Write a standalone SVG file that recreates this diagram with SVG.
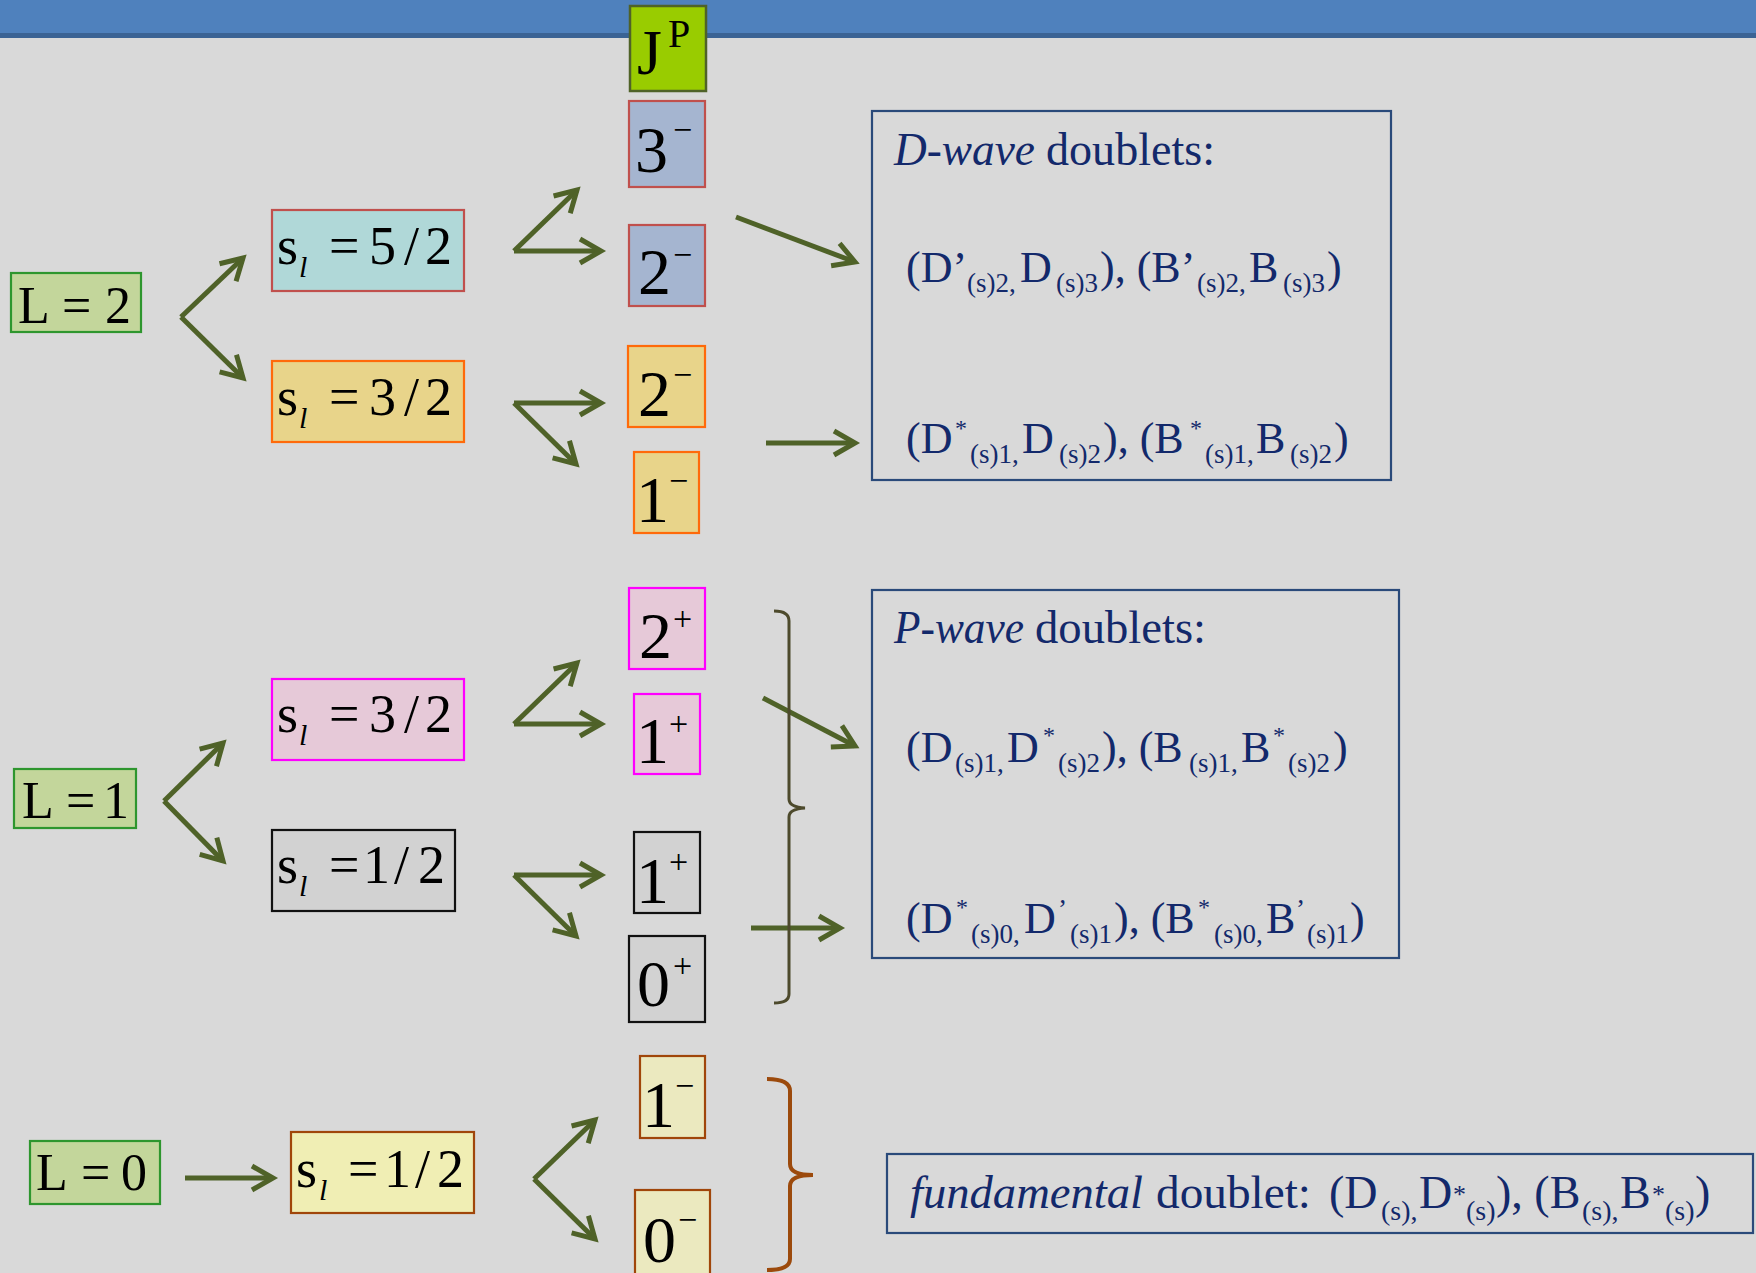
<svg xmlns="http://www.w3.org/2000/svg" width="1756" height="1273" viewBox="0 0 1756 1273">
<defs>
<style>
.sf{font-family:"Liberation Serif","Times New Roman",serif;fill:#000}
.nv{font-family:"Liberation Serif","Times New Roman",serif;fill:#13296b}
.it{font-style:italic}
.box{stroke-width:2.2}
.doub{fill:none;stroke:#2a4a7a;stroke-width:2.2}
.arr{fill:none;stroke:#4f6228;stroke-width:5;marker-end:url(#ah)}
.sub{font-size:27px}
.star{font-size:24px}
</style>
<marker id="ah" markerUnits="userSpaceOnUse" viewBox="-28 -16 32 32" markerWidth="32" markerHeight="32" refX="0" refY="0" orient="auto" overflow="visible">
<path d="M-21,-12 L0,0 L-21,12" fill="none" stroke="#4f6228" stroke-width="5"/>
</marker>
</defs>
<rect x="0" y="0" width="1756" height="1273" fill="#d9d9d9"/>
<rect x="0" y="0" width="1756" height="33" fill="#4f81bd"/>
<rect x="0" y="33" width="1756" height="5" fill="#3b6394"/>

<g id="connectors">
<path class="arr" d="M181,317 L243,258"/>
<path class="arr" d="M181,317 L243,378"/>
<path class="arr" d="M514,251 L577,190"/>
<path class="arr" d="M514,251 L601,251"/>
<path class="arr" d="M514,403 L601,403"/>
<path class="arr" d="M514,403 L576,464"/>
<path class="arr" d="M736,217 L855,262"/>
<path class="arr" d="M766,443 L855,443"/>
<path class="arr" d="M164,801 L223,743"/>
<path class="arr" d="M164,801 L223,861"/>
<path class="arr" d="M514,724 L577,663"/>
<path class="arr" d="M514,724 L601,724"/>
<path class="arr" d="M514,875 L601,875"/>
<path class="arr" d="M514,875 L576,936"/>
<path class="arr" d="M763,698 L855,746"/>
<path class="arr" d="M751,928 L840,928"/>
<path class="arr" d="M185,1178 L273,1178"/>
<path class="arr" d="M534,1179 L595,1120"/>
<path class="arr" d="M534,1179 L595,1239"/>
<path d="M774,611 Q789,611 789,621 L789,799 Q789,807 805,808 Q789,809 789,817 L789,994 Q789,1003 774,1003" fill="none" stroke="#4d4a2c" stroke-width="3"/>
<path d="M767,1079 Q790,1079 790,1091 L790,1164 Q790,1175 813,1175 Q790,1175 790,1186 L790,1259 Q790,1270 767,1270" fill="none" stroke="#9c4a0c" stroke-width="4"/>
</g>

<g id="n-jp">
<rect x="630" y="6" width="76" height="85" fill="#99cc00" stroke="#4f6228" stroke-width="2.5"/>
<text class="sf" x="637" y="74" font-size="64">J</text>
<text class="sf" x="668" y="47" font-size="40">P</text>
</g>

<g id="n-L2">
<rect class="box" x="11" y="273" width="130" height="59" fill="#c3d69b" stroke="#2e962e"/>
<text class="sf" font-size="52" y="323"><tspan x="18">L</tspan><tspan x="62">=</tspan><tspan x="105">2</tspan></text>
</g>
<g id="n-L1">
<rect class="box" x="14" y="769" width="122" height="59" fill="#c3d69b" stroke="#2e962e"/>
<text class="sf" font-size="52" y="818"><tspan x="22">L</tspan><tspan x="66">=</tspan><tspan x="103">1</tspan></text>
</g>
<g id="n-L0">
<rect class="box" x="30" y="1141" width="130" height="63" fill="#c3d69b" stroke="#2e962e"/>
<text class="sf" font-size="52" y="1190"><tspan x="36">L</tspan><tspan x="81">=</tspan><tspan x="121">0</tspan></text>
</g>

<g id="n-s52">
<rect class="box" x="272" y="210" width="192" height="81" fill="#b0d8d8" stroke="#c0504d"/>
<text class="sf" font-size="54" y="264"><tspan x="277">s</tspan><tspan x="299" y="277" font-size="30" font-style="italic">l</tspan><tspan x="329" y="264">=</tspan><tspan x="369">5</tspan><tspan x="404">/</tspan><tspan x="425">2</tspan></text>
</g>
<g id="n-s32a">
<rect class="box" x="272" y="361" width="192" height="81" fill="#e8d48a" stroke="#ff6a0a"/>
<text class="sf" font-size="54" y="415"><tspan x="277">s</tspan><tspan x="299" y="428" font-size="30" font-style="italic">l</tspan><tspan x="329" y="415">=</tspan><tspan x="369">3</tspan><tspan x="404">/</tspan><tspan x="425">2</tspan></text>
</g>
<g id="n-s32b">
<rect class="box" x="272" y="679" width="192" height="81" fill="#e6c9d8" stroke="#ff00ff"/>
<text class="sf" font-size="54" y="732"><tspan x="277">s</tspan><tspan x="299" y="745" font-size="30" font-style="italic">l</tspan><tspan x="329" y="732">=</tspan><tspan x="369">3</tspan><tspan x="404">/</tspan><tspan x="425">2</tspan></text>
</g>
<g id="n-s12a">
<rect class="box" x="272" y="830" width="183" height="81" fill="#d2d2d2" stroke="#111111"/>
<text class="sf" font-size="54" y="883"><tspan x="277">s</tspan><tspan x="299" y="896" font-size="30" font-style="italic">l</tspan><tspan x="329" y="883">=</tspan><tspan x="363">1</tspan><tspan x="394">/</tspan><tspan x="418">2</tspan></text>
</g>
<g id="n-s12b">
<rect class="box" x="291" y="1132" width="183" height="81" fill="#f0eeb4" stroke="#a0460a"/>
<text class="sf" font-size="54" y="1187"><tspan x="296">s</tspan><tspan x="319" y="1200" font-size="30" font-style="italic">l</tspan><tspan x="348" y="1187">=</tspan><tspan x="384">1</tspan><tspan x="415">/</tspan><tspan x="437">2</tspan></text>
</g>

<g id="n-3m">
<rect class="box" x="629" y="101" width="76" height="86" fill="#a5b5d0" stroke="#c0504d"/>
<text class="sf" x="635" y="172" font-size="66">3</text><text class="sf" x="673" y="141" font-size="34">−</text>
</g>
<g id="n-2ma">
<rect class="box" x="629" y="225" width="76" height="81" fill="#a5b5d0" stroke="#c0504d"/>
<text class="sf" x="638" y="294" font-size="66">2</text><text class="sf" x="673" y="266" font-size="34">−</text>
</g>
<g id="n-2mb">
<rect class="box" x="628" y="346" width="77" height="81" fill="#e8d48a" stroke="#ff6a0a"/>
<text class="sf" x="638" y="416" font-size="66">2</text><text class="sf" x="673" y="386" font-size="34">−</text>
</g>
<g id="n-1ma">
<rect class="box" x="634" y="452" width="65" height="81" fill="#e8d48a" stroke="#ff6a0a"/>
<text class="sf" x="636" y="522" font-size="66">1</text><text class="sf" x="669" y="492" font-size="34">−</text>
</g>
<g id="n-2p">
<rect class="box" x="629" y="588" width="76" height="81" fill="#e6c9d8" stroke="#ff00ff"/>
<text class="sf" x="639" y="658" font-size="66">2</text><text class="sf" x="673" y="630" font-size="34">+</text>
</g>
<g id="n-1pa">
<rect class="box" x="634" y="694" width="66" height="80" fill="#e6c9d8" stroke="#ff00ff"/>
<text class="sf" x="636" y="763" font-size="66">1</text><text class="sf" x="669" y="735" font-size="34">+</text>
</g>
<g id="n-1pb">
<rect class="box" x="634" y="832" width="66" height="81" fill="#d2d2d2" stroke="#111111"/>
<text class="sf" x="636" y="903" font-size="66">1</text><text class="sf" x="669" y="873" font-size="34">+</text>
</g>
<g id="n-0p">
<rect class="box" x="629" y="936" width="76" height="86" fill="#d2d2d2" stroke="#111111"/>
<text class="sf" x="637" y="1006" font-size="66">0</text><text class="sf" x="673" y="977" font-size="34">+</text>
</g>
<g id="n-1mc">
<rect class="box" x="640" y="1056" width="65" height="82" fill="#ebe9bf" stroke="#a0460a"/>
<text class="sf" x="642" y="1127" font-size="66">1</text><text class="sf" x="675" y="1097" font-size="34">−</text>
</g>
<g id="n-0m">
<rect class="box" x="635" y="1190" width="75" height="92" fill="#ebe9bf" stroke="#a0460a"/>
<text class="sf" x="643" y="1262" font-size="66">0</text><text class="sf" x="678" y="1231" font-size="34">−</text>
</g>

<g id="n-dwave">
<rect class="doub" x="872" y="111" width="519" height="369"/>
<text class="nv it" x="894" y="165" font-size="46" textLength="141" lengthAdjust="spacingAndGlyphs">D-wave</text>
<text class="nv" x="1046" y="165" font-size="46" textLength="169" lengthAdjust="spacingAndGlyphs">doublets:</text>
<text class="nv" font-size="44"><tspan x="906" y="282">(D’</tspan><tspan class="sub" x="967" y="292">(s)2,</tspan><tspan x="1020" y="282">D</tspan><tspan class="sub" x="1056" y="292">(s)3</tspan><tspan x="1100" y="282">), (B’</tspan><tspan class="sub" x="1197" y="292">(s)2,</tspan><tspan x="1249" y="282">B</tspan><tspan class="sub" x="1283" y="292">(s)3</tspan><tspan x="1327" y="282">)</tspan></text>
<text class="nv" font-size="44"><tspan x="906" y="453">(D</tspan><tspan class="star" x="955" y="436">*</tspan><tspan class="sub" x="970" y="463">(s)1,</tspan><tspan x="1022" y="453">D</tspan><tspan class="sub" x="1059" y="463">(s)2</tspan><tspan x="1103" y="453">), (B</tspan><tspan class="star" x="1190" y="436">*</tspan><tspan class="sub" x="1205" y="463">(s)1,</tspan><tspan x="1256" y="453">B</tspan><tspan class="sub" x="1290" y="463">(s)2</tspan><tspan x="1334" y="453">)</tspan></text>
</g>

<g id="n-pwave">
<rect class="doub" x="872" y="590" width="527" height="368"/>
<text class="nv it" x="894" y="643" font-size="46" textLength="130" lengthAdjust="spacingAndGlyphs">P-wave</text>
<text class="nv" x="1035" y="643" font-size="46" textLength="171" lengthAdjust="spacingAndGlyphs">doublets:</text>
<text class="nv" font-size="44"><tspan x="906" y="762">(D</tspan><tspan class="sub" x="955" y="772">(s)1,</tspan><tspan x="1007" y="762">D</tspan><tspan class="star" x="1043" y="743">*</tspan><tspan class="sub" x="1058" y="772">(s)2</tspan><tspan x="1102" y="762">), (B</tspan><tspan class="sub" x="1189" y="772">(s)1,</tspan><tspan x="1241" y="762">B</tspan><tspan class="star" x="1273" y="743">*</tspan><tspan class="sub" x="1288" y="772">(s)2</tspan><tspan x="1333" y="762">)</tspan></text>
<text class="nv" font-size="44"><tspan x="906" y="933">(D</tspan><tspan class="star" x="956" y="915">*</tspan><tspan class="sub" x="971" y="943">(s)0,</tspan><tspan x="1024" y="933">D</tspan><tspan class="sub" x="1058" y="918">’</tspan><tspan class="sub" x="1070" y="943">(s)1</tspan><tspan x="1114" y="933">), (B</tspan><tspan class="star" x="1198" y="915">*</tspan><tspan class="sub" x="1214" y="943">(s)0,</tspan><tspan x="1266" y="933">B</tspan><tspan class="sub" x="1296" y="918">’</tspan><tspan class="sub" x="1307" y="943">(s)1</tspan><tspan x="1350" y="933">)</tspan></text>
</g>

<g id="n-fund">
<rect class="doub" x="887" y="1154" width="866" height="79"/>
<text class="nv it" x="910" y="1208" font-size="46" textLength="233" lengthAdjust="spacingAndGlyphs">fundamental</text>
<text class="nv" x="1156" y="1208" font-size="46" textLength="155" lengthAdjust="spacingAndGlyphs">doublet:</text>
<text class="nv" font-size="46"><tspan x="1329" y="1208">(D</tspan><tspan x="1381" y="1220" font-size="28">(s),</tspan><tspan x="1419" y="1208">D</tspan><tspan x="1453" y="1203" font-size="26">*</tspan><tspan x="1466" y="1220" font-size="28">(s)</tspan><tspan x="1496" y="1208">), (B</tspan><tspan x="1582" y="1220" font-size="28">(s),</tspan><tspan x="1620" y="1208">B</tspan><tspan x="1652" y="1203" font-size="26">*</tspan><tspan x="1665" y="1220" font-size="28">(s)</tspan><tspan x="1695" y="1208">)</tspan></text>
</g>
</svg>
